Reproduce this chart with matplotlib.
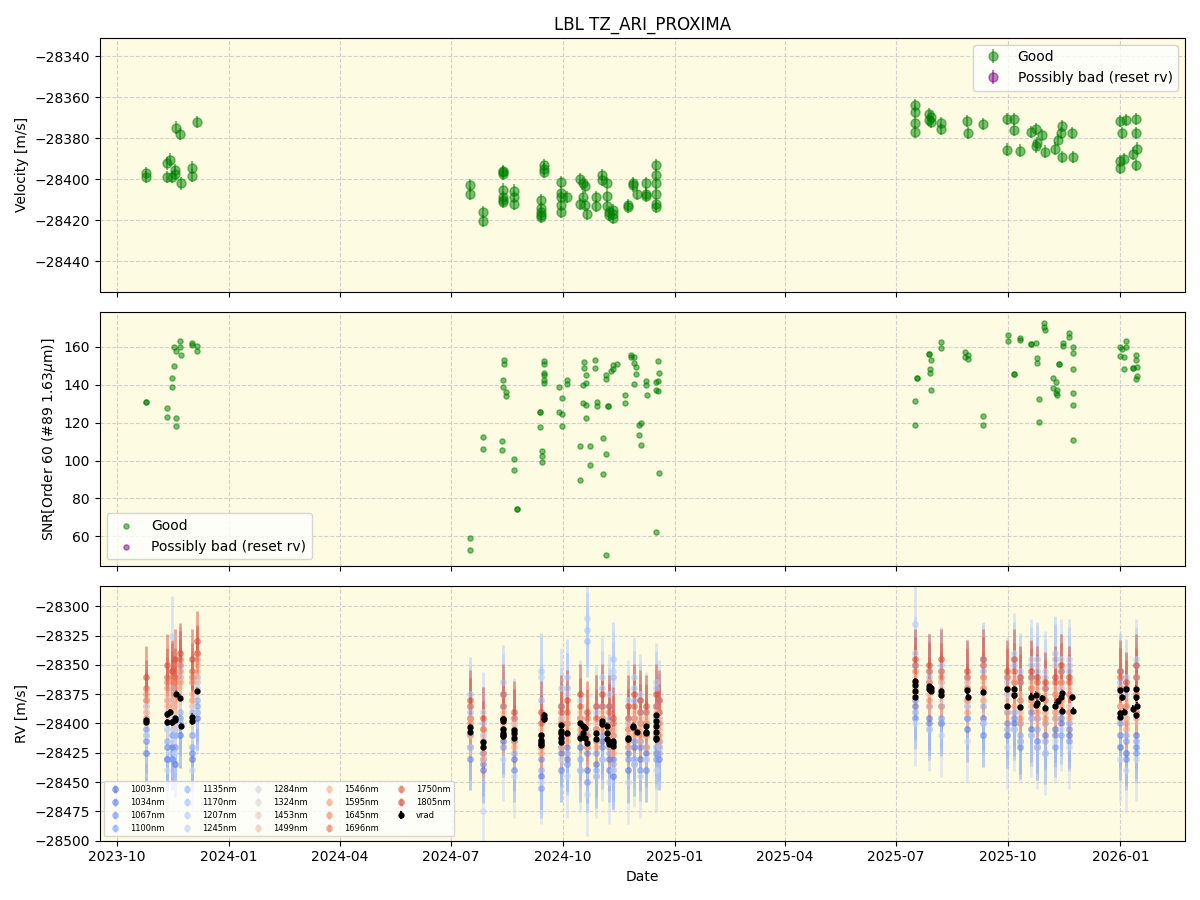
import matplotlib
matplotlib.use("Agg")
import matplotlib.pyplot as plt
import matplotlib.dates as mdates
import numpy as np
import pandas as pd

# ---------------- data ----------------
vel_dates = [
    "2023-10-25", "2023-10-25", "2023-11-11", "2023-11-14", "2023-11-11", "2023-11-15",
    "2023-11-18", "2023-11-18", "2023-11-19", "2023-11-22", "2023-11-23", "2023-12-02",
    "2023-12-02", "2023-12-06",
    "2024-07-17", "2024-07-17", "2024-07-27", "2024-07-27",
    "2024-08-13", "2024-08-13", "2024-08-13", "2024-08-13", "2024-08-13", "2024-08-13", "2024-08-13",
    "2024-08-22", "2024-08-22", "2024-08-22",
    "2024-09-13", "2024-09-13", "2024-09-13", "2024-09-13", "2024-09-13",
    "2024-09-15", "2024-09-15", "2024-09-15",
    "2024-09-29", "2024-09-29", "2024-09-29", "2024-09-29", "2024-09-29",
    "2024-10-04", "2024-10-15", "2024-10-15", "2024-10-17", "2024-10-17", "2024-10-19", "2024-10-19",
    "2024-10-21", "2024-10-28", "2024-10-28", "2024-11-02", "2024-11-02",
    "2024-11-06", "2024-11-06", "2024-11-06", "2024-11-08", "2024-11-08",
    "2024-11-11", "2024-11-11", "2024-11-11", "2024-11-23", "2024-11-23",
    "2024-11-27", "2024-11-27", "2024-12-01", "2024-12-08", "2024-12-08", "2024-12-08",
    "2024-12-16", "2024-12-16", "2024-12-16", "2024-12-16", "2024-12-16", "2024-12-16",
    "2025-07-17", "2025-07-17", "2025-07-17", "2025-07-17",
    "2025-07-28", "2025-07-28", "2025-07-30", "2025-07-30", "2025-08-07", "2025-08-07",
    "2025-08-28", "2025-08-29", "2025-09-10", "2025-09-30", "2025-09-30",
    "2025-10-06", "2025-10-06", "2025-10-11", "2025-10-20", "2025-10-24", "2025-10-24",
    "2025-10-25", "2025-10-29", "2025-10-31", "2025-11-08", "2025-11-11", "2025-11-13",
    "2025-11-14", "2025-11-14", "2025-11-22", "2025-11-23",
    "2026-01-01", "2026-01-01", "2026-01-01", "2026-01-02", "2026-01-04", "2026-01-06",
    "2026-01-11", "2026-01-14", "2026-01-14", "2026-01-14", "2026-01-15",
]
vel_values = [
    -28397, -28399, -28392.3, -28390.4, -28399, -28399,
    -28395.6, -28397.2, -28374.8, -28378, -28402, -28394.3,
    -28398.2, -28372,
    -28403, -28407, -28416, -28420.5,
    -28396.5, -28396, -28397.5, -28405, -28408.5, -28410, -28411,
    -28405.5, -28408.5, -28412,
    -28410, -28414, -28416, -28417.5, -28418.5,
    -28393, -28395, -28396.5,
    -28401.5, -28406.5, -28412.5, -28416, -28408.5,
    -28408.5, -28400, -28412, -28402, -28408.5, -28403.5, -28412.5,
    -28417, -28408.5, -28413, -28398, -28400.5,
    -28402, -28408, -28413, -28416, -28417.5,
    -28417, -28415, -28419, -28412.5, -28413.5,
    -28403, -28402, -28407, -28402, -28407, -28408,
    -28393, -28398, -28402, -28407, -28412, -28413.5,
    -28364, -28367, -28372.5, -28377,
    -28368, -28371, -28369.5, -28372, -28372.5, -28375.5,
    -28371.5, -28377.5, -28373, -28370.5, -28385.5,
    -28370.5, -28376, -28386, -28377, -28375.5, -28384,
    -28382.5, -28378.5, -28386.5, -28385, -28381, -28377.5,
    -28374, -28389, -28377.5, -28389,
    -28371.5, -28391, -28394.5, -28377.5, -28390, -28371,
    -28387.5, -28370.5, -28377.5, -28393, -28385,
]
vel_err = 3.0

snr_dates = [
    "2023-10-25", "2023-10-25", "2023-11-11", "2023-11-11", "2023-11-15", "2023-11-15",
    "2023-11-17", "2023-11-17", "2023-11-19", "2023-11-19", "2023-11-19", "2023-11-22",
    "2023-11-22", "2023-11-23", "2023-12-02", "2023-12-02", "2023-12-06", "2023-12-06",
    "2024-07-17", "2024-07-17", "2024-07-27", "2024-07-27", "2024-08-12", "2024-08-12",
    "2024-08-13", "2024-08-13", "2024-08-14", "2024-08-14", "2024-08-15", "2024-08-15",
    "2024-08-22", "2024-08-22", "2024-08-24", "2024-08-24",
    "2024-09-12", "2024-09-12", "2024-09-12", "2024-09-14", "2024-09-14", "2024-09-14",
    "2024-09-15", "2024-09-15", "2024-09-15", "2024-09-15", "2024-09-15", "2024-09-15",
    "2024-09-28", "2024-09-28", "2024-09-30", "2024-09-30", "2024-09-30",
    "2024-10-04", "2024-10-04", "2024-10-15", "2024-10-15", "2024-10-17", "2024-10-17",
    "2024-10-18", "2024-10-18", "2024-10-20", "2024-10-20", "2024-10-20", "2024-10-20",
    "2024-10-23", "2024-10-23", "2024-10-27", "2024-10-27", "2024-10-29", "2024-10-29",
    "2024-11-03", "2024-11-03", "2024-11-05", "2024-11-05", "2024-11-05", "2024-11-05",
    "2024-11-07", "2024-11-07", "2024-11-09", "2024-11-11", "2024-11-11", "2024-11-14",
    "2024-11-21", "2024-11-21", "2024-11-26", "2024-11-26", "2024-11-28", "2024-11-28",
    "2024-11-28", "2024-11-30", "2024-11-30", "2024-12-02", "2024-12-02", "2024-12-04",
    "2024-12-04", "2024-12-08", "2024-12-08", "2024-12-09", "2024-12-16", "2024-12-16",
    "2024-12-16", "2024-12-18", "2024-12-18", "2024-12-18", "2024-12-19", "2024-12-19",
    "2025-07-17", "2025-07-17", "2025-07-18", "2025-07-18", "2025-07-28", "2025-07-28",
    "2025-07-29", "2025-07-29", "2025-07-30", "2025-07-30", "2025-08-07", "2025-08-07",
    "2025-08-27", "2025-08-27", "2025-08-29", "2025-08-29", "2025-09-10", "2025-09-10",
    "2025-10-01", "2025-10-01", "2025-10-06", "2025-10-06", "2025-10-11", "2025-10-11",
    "2025-10-20", "2025-10-20", "2025-10-24", "2025-10-25", "2025-10-25", "2025-10-26",
    "2025-10-26", "2025-10-30", "2025-10-30", "2025-10-31", "2025-11-07", "2025-11-07",
    "2025-11-09", "2025-11-09", "2025-11-10", "2025-11-10", "2025-11-12", "2025-11-12",
    "2025-11-15", "2025-11-15", "2025-11-20", "2025-11-20",
    "2025-11-23", "2025-11-23", "2025-11-23", "2025-11-23", "2025-11-23", "2025-11-23",
    "2026-01-01", "2026-01-01", "2026-01-02", "2026-01-04", "2026-01-04", "2026-01-06",
    "2026-01-06", "2026-01-11", "2026-01-11", "2026-01-14", "2026-01-14", "2026-01-14",
    "2026-01-15", "2026-01-15",
]
snr_values = [
    131.0, 131.0, 127.7, 123.0, 138.8, 143.5,
    150.0, 160.0, 158.0, 122.5, 118.3, 163.0,
    160.0, 155.6, 162.0, 161.0, 160.5, 157.7,
    59.3, 52.6, 112.4, 106.1, 110.3, 105.6,
    142.4, 138.8, 153.0, 150.9, 136.1, 134.0,
    100.9, 95.1, 74.7, 74.7,
    125.4, 125.4, 117.7, 105.1, 102.4, 99.3,
    152.4, 150.9, 146.5, 145.1, 142.3, 140.9,
    138.8, 125.4, 133.0, 124.5, 118.2,
    142.4, 140.3, 107.7, 89.8, 139.8, 130.3,
    151.9, 148.8, 145.1, 140.9, 129.3, 122.4,
    107.7, 97.7, 153.0, 148.8, 130.9, 128.8,
    111.9, 93.0, 103.5, 50.3, 145.1, 143.0,
    128.8, 128.8, 147.2, 150.3, 148.2, 151.2,
    134.6, 130.3, 155.6, 154.5, 151.4, 154.9,
    140.3, 149.3, 145.6, 118.8, 113.5, 119.8,
    108.2, 141.9, 139.8, 134.6, 141.6, 137.2,
    62.4, 141.9, 136.7, 152.4, 146.1, 93.5,
    131.4, 118.8, 143.8, 143.8, 156.1, 156.1,
    148.2, 146.1, 153.0, 137.2, 162.4, 159.3,
    157.2, 154.6, 155.6, 153.5, 123.5, 118.8,
    166.1, 163.3, 145.9, 145.9, 164.5, 163.7,
    161.4, 161.4, 162.3, 154.0, 151.4, 132.4,
    120.3, 172.4, 170.7, 168.9, 143.5, 138.2,
    141.4, 135.6, 137.2, 134.7, 151.2, 151.2,
    162.3, 160.5, 167.2, 165.1,
    159.8, 156.7, 148.2, 135.6, 129.3, 110.9,
    159.8, 155.4, 158.8, 154.6, 148.2, 163.0,
    159.8, 148.8, 148.8, 155.6, 153.0, 143.0,
    149.3, 144.6,
]

band_dates = [
    "2023-10-25", "2023-11-11", "2023-11-15", "2023-11-18", "2023-11-22", "2023-12-02", "2023-12-06",
    "2024-07-17", "2024-07-27", "2024-08-13", "2024-08-22", "2024-09-13", "2024-09-29", "2024-10-04",
    "2024-10-15", "2024-10-21", "2024-10-28", "2024-11-02", "2024-11-08", "2024-11-11", "2024-11-23",
    "2024-11-28", "2024-12-03", "2024-12-08", "2024-12-16", "2024-12-19",
    "2025-07-17", "2025-07-28", "2025-08-07", "2025-08-28", "2025-09-10", "2025-09-30", "2025-10-06",
    "2025-10-11", "2025-10-20", "2025-10-25", "2025-10-31", "2025-11-08", "2025-11-13", "2025-11-20",
    "2026-01-01", "2026-01-06", "2026-01-14",
]
band_labels = ["1003nm", "1034nm", "1067nm", "1100nm", "1135nm", "1170nm", "1207nm", "1245nm",
               "1284nm", "1324nm", "1453nm", "1499nm", "1546nm", "1595nm", "1645nm", "1696nm",
               "1750nm", "1805nm"]
band_err = [28, 27, 26, 25, 30, 32, 34, 36, 20, 18, 14, 14, 16, 18, 20, 22, 24, 26]
rv_1003 = [-28425, -28430, -28420, -28435, -28410, -28430, -28395,
           -28420, -28440, -28415, -28430, -28445, -28425, -28430, -28420, -28440, -28435, -28415, -28430,
           -28445, -28440, -28420, -28430, -28425, -28410, -28420,
           -28385, -28395, -28400, -28405, -28395, -28410, -28400, -28415, -28405, -28420, -28410, -28405,
           -28400, -28410, -28420, -28425, -28410]
rv_1034 = [-28415, -28420, -28430, -28410, -28400, -28425, -28390,
           -28430, -28435, -28405, -28440, -28430, -28440, -28420, -28440, -28425, -28445, -28420, -28440,
           -28430, -28425, -28435, -28420, -28440, -28425, -28430,
           -28395, -28400, -28385, -28395, -28410, -28400, -28395, -28420, -28390, -28415, -28425, -28410,
           -28395, -28405, -28410, -28430, -28420]
rv_1067 = [-28405, -28430, -28410, -28420, -28395, -28410, -28385,
           -28410, -28425, -28420, -28415, -28455, -28420, -28435, -28410, -28450, -28425, -28430, -28420,
           -28440, -28430, -28415, -28440, -28420, -28430, -28415,
           -28380, -28405, -28395, -28385, -28400, -28390, -28405, -28400, -28410, -28395, -28400, -28420,
           -28390, -28415, -28400, -28415, -28425]
rv_1100 = [-28410, -28415, -28425, -28405, -28390, -28420, -28380,
           -28395, -28430, -28410, -28425, -28440, -28415, -28425, -28430, -28420, -28440, -28410, -28425,
           -28435, -28420, -28430, -28415, -28430, -28420, -28425,
           -28390, -28385, -28400, -28395, -28385, -28405, -28390, -28410, -28395, -28405, -28415, -28395,
           -28410, -28400, -28395, -28410, -28415]
rv_1135 = [-28395, -28405, -28380, -28400, -28360, -28390, -28360,
           -28390, -28410, -28385, -28400, -28380, -28395, -28370, -28400, -28330, -28405, -28385, -28395,
           -28360, -28400, -28380, -28390, -28410, -28385, -28395,
           -28350, -28360, -28365, -28370, -28355, -28375, -28350, -28365, -28360, -28355, -28370, -28345,
           -28370, -28355, -28365, -28370, -28360]
rv_1170 = [-28385, -28400, -28370, -28410, -28350, -28395, -28365,
           -28375, -28400, -28365, -28410, -28355, -28385, -28360, -28395, -28320, -28390, -28370, -28385,
           -28345, -28395, -28370, -28380, -28400, -28370, -28390,
           -28340, -28355, -28350, -28360, -28345, -28365, -28345, -28355, -28350, -28345, -28360, -28340,
           -28355, -28350, -28355, -28360, -28350]
rv_1207 = [-28400, -28390, -28325, -28395, -28355, -28385, -28370,
           -28385, -28390, -28375, -28395, -28360, -28370, -28375, -28380, -28310, -28385, -28360, -28375,
           -28355, -28380, -28360, -28375, -28390, -28365, -28380,
           -28315, -28365, -28355, -28365, -28350, -28360, -28340, -28360, -28345, -28350, -28355, -28350,
           -28345, -28345, -28370, -28375, -28345]
rv_1245 = [-28410, -28440, -28415, -28425, -28400, -28440, -28390,
           -28420, -28475, -28430, -28445, -28450, -28430, -28445, -28440, -28460, -28445, -28430, -28450,
           -28440, -28450, -28435, -28445, -28430, -28440, -28420,
           -28400, -28405, -28410, -28415, -28400, -28420, -28405, -28415, -28410, -28420, -28425, -28415,
           -28405, -28420, -28430, -28440, -28430]
rv_1284 = [-28390, -28405, -28395, -28400, -28380, -28395, -28375,
           -28395, -28415, -28395, -28405, -28410, -28400, -28400, -28395, -28405, -28400, -28395, -28405,
           -28410, -28405, -28395, -28400, -28400, -28395, -28400,
           -28370, -28375, -28380, -28380, -28375, -28385, -28375, -28390, -28380, -28385, -28390, -28385,
           -28380, -28385, -28385, -28395, -28390]
rv_1324 = [-28400, -28395, -28390, -28405, -28375, -28400, -28370,
           -28410, -28420, -28400, -28410, -28415, -28405, -28410, -28400, -28410, -28415, -28400, -28410,
           -28420, -28410, -28400, -28405, -28410, -28400, -28405,
           -28375, -28370, -28375, -28385, -28380, -28380, -28370, -28385, -28380, -28380, -28385, -28390,
           -28375, -28385, -28390, -28390, -28385]
rv_1453 = [-28385, -28380, -28385, -28390, -28370, -28385, -28365,
           -28400, -28410, -28395, -28400, -28405, -28400, -28400, -28395, -28405, -28400, -28395, -28400,
           -28410, -28405, -28395, -28400, -28400, -28390, -28395,
           -28365, -28365, -28370, -28370, -28365, -28375, -28365, -28380, -28370, -28375, -28380, -28375,
           -28370, -28375, -28375, -28385, -28375]
rv_1499 = [-28380, -28375, -28380, -28385, -28365, -28380, -28360,
           -28395, -28405, -28390, -28400, -28410, -28395, -28395, -28390, -28400, -28405, -28390, -28405,
           -28405, -28400, -28390, -28395, -28395, -28390, -28395,
           -28360, -28365, -28365, -28365, -28360, -28370, -28360, -28375, -28365, -28370, -28375, -28370,
           -28365, -28370, -28370, -28380, -28370]
rv_1546 = [-28390, -28385, -28375, -28380, -28360, -28375, -28355,
           -28405, -28420, -28400, -28410, -28420, -28410, -28405, -28400, -28415, -28410, -28400, -28410,
           -28420, -28410, -28405, -28405, -28410, -28400, -28405,
           -28370, -28375, -28375, -28380, -28370, -28385, -28375, -28390, -28380, -28385, -28390, -28385,
           -28380, -28390, -28385, -28395, -28390]
rv_1595 = [-28395, -28380, -28385, -28375, -28365, -28380, -28350,
           -28410, -28430, -28410, -28420, -28425, -28420, -28415, -28410, -28420, -28420, -28405, -28420,
           -28425, -28420, -28410, -28415, -28420, -28410, -28415,
           -28375, -28385, -28385, -28390, -28380, -28390, -28385, -28400, -28385, -28395, -28400, -28395,
           -28385, -28395, -28395, -28405, -28395]
rv_1645 = [-28375, -28370, -28365, -28370, -28355, -28365, -28345,
           -28400, -28425, -28405, -28415, -28420, -28410, -28410, -28405, -28420, -28415, -28400, -28415,
           -28420, -28415, -28405, -28410, -28410, -28405, -28410,
           -28365, -28380, -28375, -28380, -28370, -28385, -28375, -28395, -28380, -28390, -28395, -28390,
           -28380, -28390, -28385, -28400, -28390]
rv_1696 = [-28380, -28365, -28360, -28365, -28350, -28360, -28340,
           -28395, -28415, -28395, -28405, -28410, -28400, -28400, -28395, -28410, -28405, -28395, -28405,
           -28410, -28405, -28395, -28400, -28400, -28395, -28400,
           -28355, -28365, -28360, -28370, -28360, -28370, -28365, -28380, -28370, -28375, -28380, -28375,
           -28365, -28375, -28370, -28385, -28375]
rv_1750 = [-28370, -28360, -28355, -28360, -28345, -28355, -28340,
           -28385, -28405, -28385, -28395, -28400, -28390, -28390, -28385, -28395, -28395, -28385, -28390,
           -28400, -28395, -28385, -28390, -28390, -28385, -28390,
           -28350, -28355, -28355, -28360, -28350, -28360, -28355, -28365, -28360, -28365, -28370, -28365,
           -28355, -28365, -28360, -28370, -28360]
rv_1805 = [-28360, -28350, -28355, -28345, -28340, -28345, -28330,
           -28380, -28395, -28375, -28390, -28390, -28385, -28380, -28375, -28390, -28385, -28375, -28385,
           -28395, -28385, -28375, -28380, -28385, -28375, -28380,
           -28345, -28350, -28345, -28355, -28345, -28355, -28345, -28360, -28355, -28360, -28365, -28360,
           -28350, -28360, -28355, -28365, -28350]
band_values = [rv_1003, rv_1034, rv_1067, rv_1100, rv_1135, rv_1170, rv_1207, rv_1245, rv_1284,
               rv_1324, rv_1453, rv_1499, rv_1546, rv_1595, rv_1645, rv_1696, rv_1750, rv_1805]

# ---------------- plot ----------------
bg = "#fdfbe2"
vd = pd.to_datetime(vel_dates)
sd = pd.to_datetime(snr_dates)
bd = pd.to_datetime(band_dates)

fig, axes = plt.subplots(3, 1, figsize=(12, 9), dpi=100, sharex=True)
fig.subplots_adjust(left=0.083, right=0.9875, top=0.958, bottom=0.066, hspace=0.079)
ax1, ax2, ax3 = axes

for ax in axes:
    ax.set_facecolor(bg)
    ax.grid(True, linestyle="--", color="#c8c8c8", alpha=0.8)
    ax.set_axisbelow(True)

# top panel
ax1.errorbar(vd, vel_values, yerr=vel_err, fmt="o", color="green", ms=6.5, alpha=0.5,
             elinewidth=1.5, label="Good")
ax1.errorbar([], [], yerr=[], fmt="o", color="purple", ms=6.5, alpha=0.5, label="Possibly bad (reset rv)")
ax1.set_ylim(-28455, -28331)
ax1.set_ylabel("Velocity [m/s]")
ax1.set_title("LBL TZ_ARI_PROXIMA")
ax1.legend(loc="upper right")

# middle panel
ax2.scatter(sd, snr_values, s=14, color="green", alpha=0.5, label="Good")
ax2.scatter([], [], s=14, color="purple", alpha=0.5, label="Possibly bad (reset rv)")
ax2.set_ylim(44.2, 178.4)
ax2.set_ylabel("SNR[Order 60 (#89 1.63$\\mu$m)]")
ax2.legend(loc="lower left")

# bottom panel
cmap = plt.get_cmap("coolwarm")
cols = cmap(np.linspace(0.1, 0.9, len(band_labels)))
for lab, vals, err, c in zip(band_labels, band_values, band_err, cols):
    ax3.errorbar(bd, vals, yerr=err, fmt="o", color=c, ms=4, alpha=0.5, elinewidth=2.0, label=lab)
ax3.errorbar(vd, vel_values, yerr=vel_err, fmt="o", color="black", ms=3.5, elinewidth=1.5, label="vrad")
ax3.set_ylim(-28500, -28283)
ax3.set_ylabel("RV [m/s]")
ax3.set_xlabel("Date")
ax3.legend(loc="lower left", ncol=5, fontsize=6, columnspacing=1.6)

ax3.xaxis.set_major_locator(mdates.MonthLocator(bymonth=[1, 4, 7, 10]))
ax3.xaxis.set_major_formatter(mdates.DateFormatter("%Y-%m"))
ax3.set_xlim(pd.Timestamp("2023-09-17"), pd.Timestamp("2026-02-23"))

fig.savefig("out.png", dpi=100)
